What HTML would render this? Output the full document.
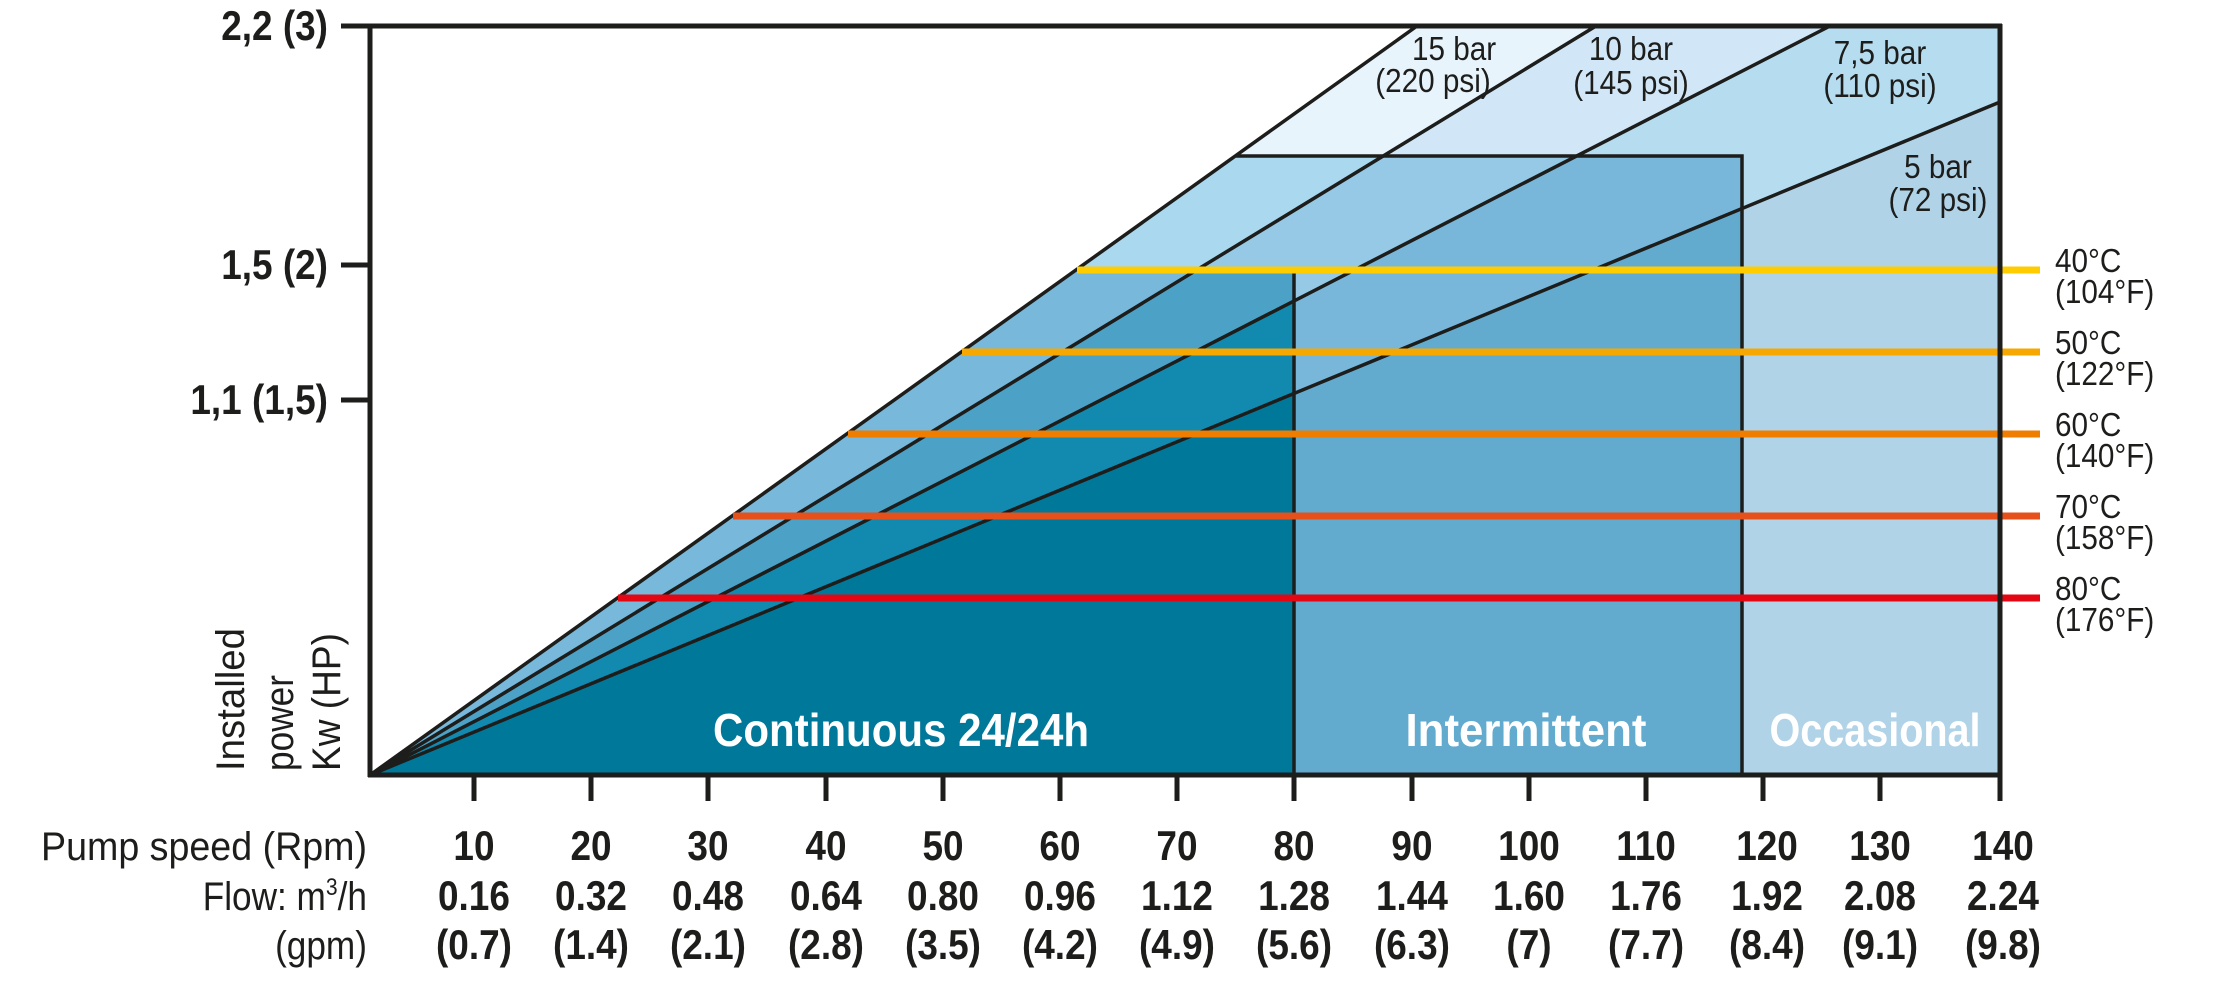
<!DOCTYPE html>
<html><head><meta charset="utf-8"><style>
html,body{margin:0;padding:0;background:#fff;}
svg{display:block;}
text{font-family:"Liberation Sans",sans-serif;fill:#1d1d1b;}
.t{font-size:42px;font-weight:bold;text-anchor:middle;}
.n{font-size:40px;}
.b{font-size:33px;}
.w{font-size:46px;font-weight:bold;fill:#fff;text-anchor:middle;}
</style></head><body>
<svg width="2224" height="998" viewBox="0 0 2224 998" xmlns="http://www.w3.org/2000/svg">
<defs>
<clipPath id="cB"><rect x="370" y="156" width="1372" height="619"/></clipPath>
<clipPath id="cA"><rect x="370" y="270" width="924" height="505"/></clipPath>
</defs>
<g>
<polygon points="370,775 2000,102 2000,775" fill="#b0d3e8"/>
<polygon points="370,775 1830,26 2000,26 2000,102" fill="#b6dcf0"/>
<polygon points="370,775 1596,26 1830,26" fill="#d1e7f7"/>
<polygon points="370,775 1417,26 1596,26" fill="#e8f4fc"/>
</g>
<g clip-path="url(#cB)">
<polygon points="370,775 2000,102 2000,775" fill="#62abcf"/>
<polygon points="370,775 1830,26 2000,26 2000,102" fill="#78b7da"/>
<polygon points="370,775 1596,26 1830,26" fill="#96c9e5"/>
<polygon points="370,775 1417,26 1596,26" fill="#aad8ef"/>
</g>
<g clip-path="url(#cA)">
<polygon points="370,775 2000,102 2000,775" fill="#00789a"/>
<polygon points="370,775 1830,26 2000,26 2000,102" fill="#128aaf"/>
<polygon points="370,775 1596,26 1830,26" fill="#4ca1c6"/>
<polygon points="370,775 1417,26 1596,26" fill="#78b8da"/>
</g>
<g stroke="#1d1d1b" stroke-width="3.5" fill="none">
<polyline points="1236,156 1742,156 1742,775"/>
<line x1="1294" y1="270" x2="1294" y2="775"/>
<line x1="370" y1="775" x2="1417" y2="26"/>
<line x1="370" y1="775" x2="1596" y2="26"/>
<line x1="370" y1="775" x2="1830" y2="26"/>
<line x1="370" y1="775" x2="2000" y2="102"/>
</g>
<g stroke-width="7">
<line x1="1077" y1="270" x2="2040" y2="270" stroke="#ffcc00"/>
<line x1="962" y1="352" x2="2040" y2="352" stroke="#f7a800"/>
<line x1="848" y1="434" x2="2040" y2="434" stroke="#ee7d00"/>
<line x1="733" y1="516" x2="2040" y2="516" stroke="#e6501b"/>
<line x1="618" y1="598" x2="2040" y2="598" stroke="#e30613"/>
</g>
<g stroke="#1d1d1b" stroke-width="5" fill="none">
<line x1="341" y1="26" x2="2002" y2="26"/>
<line x1="370" y1="24" x2="370" y2="777"/>
<line x1="368" y1="775" x2="2002" y2="775"/>
<line x1="2000" y1="24" x2="2000" y2="801"/>
<line x1="341" y1="265" x2="370" y2="265"/>
<line x1="341" y1="400" x2="370" y2="400"/>
<line x1="474" y1="775" x2="474" y2="801"/>
<line x1="591" y1="775" x2="591" y2="801"/>
<line x1="708" y1="775" x2="708" y2="801"/>
<line x1="826" y1="775" x2="826" y2="801"/>
<line x1="943" y1="775" x2="943" y2="801"/>
<line x1="1060" y1="775" x2="1060" y2="801"/>
<line x1="1177" y1="775" x2="1177" y2="801"/>
<line x1="1294" y1="775" x2="1294" y2="801"/>
<line x1="1412" y1="775" x2="1412" y2="801"/>
<line x1="1529" y1="775" x2="1529" y2="801"/>
<line x1="1646" y1="775" x2="1646" y2="801"/>
<line x1="1763" y1="775" x2="1763" y2="801"/>
<line x1="1880" y1="775" x2="1880" y2="801"/>
</g>
<g transform="scale(0.88 1)">
<text x="372.7" y="40" class="t" style="text-anchor:end">2,2 (3)</text>
<text x="372.7" y="279" class="t" style="text-anchor:end">1,5 (2)</text>
<text x="372.7" y="414" class="t" style="text-anchor:end">1,1 (1,5)</text>
<text x="538.6" y="860" class="t">10</text><text x="538.6" y="910" class="t">0.16</text><text x="538.6" y="959" class="t">(0.7)</text>
<text x="671.6" y="860" class="t">20</text><text x="671.6" y="910" class="t">0.32</text><text x="671.6" y="959" class="t">(1.4)</text>
<text x="804.5" y="860" class="t">30</text><text x="804.5" y="910" class="t">0.48</text><text x="804.5" y="959" class="t">(2.1)</text>
<text x="938.6" y="860" class="t">40</text><text x="938.6" y="910" class="t">0.64</text><text x="938.6" y="959" class="t">(2.8)</text>
<text x="1071.6" y="860" class="t">50</text><text x="1071.6" y="910" class="t">0.80</text><text x="1071.6" y="959" class="t">(3.5)</text>
<text x="1204.5" y="860" class="t">60</text><text x="1204.5" y="910" class="t">0.96</text><text x="1204.5" y="959" class="t">(4.2)</text>
<text x="1337.5" y="860" class="t">70</text><text x="1337.5" y="910" class="t">1.12</text><text x="1337.5" y="959" class="t">(4.9)</text>
<text x="1470.5" y="860" class="t">80</text><text x="1470.5" y="910" class="t">1.28</text><text x="1470.5" y="959" class="t">(5.6)</text>
<text x="1604.5" y="860" class="t">90</text><text x="1604.5" y="910" class="t">1.44</text><text x="1604.5" y="959" class="t">(6.3)</text>
<text x="1737.5" y="860" class="t">100</text><text x="1737.5" y="910" class="t">1.60</text><text x="1737.5" y="959" class="t">(7)</text>
<text x="1870.5" y="860" class="t">110</text><text x="1870.5" y="910" class="t">1.76</text><text x="1870.5" y="959" class="t">(7.7)</text>
<text x="2008" y="860" class="t">120</text><text x="2008" y="910" class="t">1.92</text><text x="2008" y="959" class="t">(8.4)</text>
<text x="2136.4" y="860" class="t">130</text><text x="2136.4" y="910" class="t">2.08</text><text x="2136.4" y="959" class="t">(9.1)</text>
<text x="2276.1" y="860" class="t">140</text><text x="2276.1" y="910" class="t">2.24</text><text x="2276.1" y="959" class="t">(9.8)</text>
</g>
<g transform="rotate(-90)">
<text x="-771" y="244" class="n" textLength="143" lengthAdjust="spacingAndGlyphs">Installed</text>
<text x="-771" y="293" class="n" textLength="96" lengthAdjust="spacingAndGlyphs">power</text>
<text x="-771" y="340" class="n" textLength="138" lengthAdjust="spacingAndGlyphs">Kw (HP)</text>
</g>
<text x="367" y="860" class="n" text-anchor="end" textLength="326" lengthAdjust="spacingAndGlyphs">Pump speed (Rpm)</text>
<g transform="scale(0.88 1)">
<text x="417" y="910" class="n" text-anchor="end">Flow: m<tspan dy="-15" font-size="24">3</tspan><tspan dy="15">/h</tspan></text>
<text x="417" y="959" class="n" text-anchor="end">(gpm)</text>
</g>
<text x="901" y="746" class="w" textLength="376" lengthAdjust="spacingAndGlyphs">Continuous 24/24h</text>
<text x="1526" y="746" class="w" textLength="241" lengthAdjust="spacingAndGlyphs">Intermittent</text>
<text x="1875" y="746" class="w" textLength="211" lengthAdjust="spacingAndGlyphs">Occasional</text>
<g transform="scale(0.9 1)">
<text x="1615.6" y="60" class="b" text-anchor="middle">15 bar</text>
<text x="1592.2" y="92" class="b" text-anchor="middle">(220 psi)</text>
<text x="1812.2" y="60" class="b" text-anchor="middle">10 bar</text>
<text x="1812.2" y="94" class="b" text-anchor="middle">(145 psi)</text>
<text x="2088.9" y="64" class="b" text-anchor="middle">7,5 bar</text>
<text x="2088.9" y="97" class="b" text-anchor="middle">(110 psi)</text>
<text x="2153.3" y="178" class="b" text-anchor="middle">5 bar</text>
<text x="2153.3" y="211" class="b" text-anchor="middle">(72 psi)</text>
<text x="2283.3" y="272" class="b">40°C</text><text x="2283.3" y="303" class="b">(104°F)</text>
<text x="2283.3" y="354" class="b">50°C</text><text x="2283.3" y="385" class="b">(122°F)</text>
<text x="2283.3" y="436" class="b">60°C</text><text x="2283.3" y="467" class="b">(140°F)</text>
<text x="2283.3" y="518" class="b">70°C</text><text x="2283.3" y="549" class="b">(158°F)</text>
<text x="2283.3" y="600" class="b">80°C</text><text x="2283.3" y="631" class="b">(176°F)</text>
</g>
</svg>
</body></html>
